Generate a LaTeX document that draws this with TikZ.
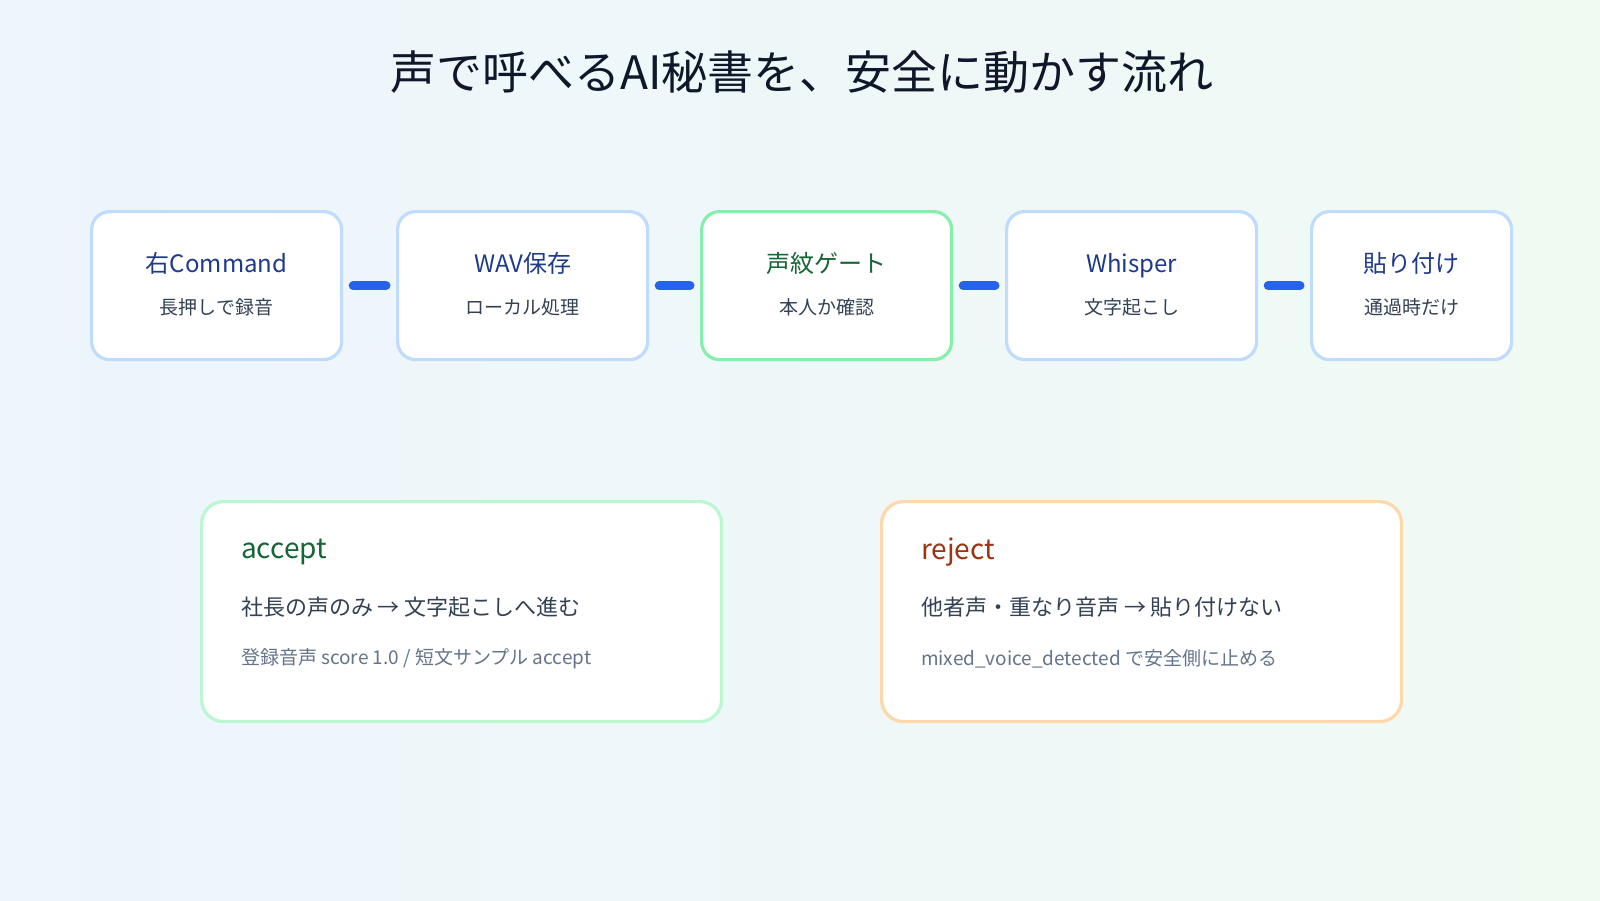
\documentclass[tikz,border=0pt]{standalone}
\usepackage{fontspec}
\setmainfont{Noto Sans CJK JP}
\usetikzlibrary{positioning}
\definecolor{bgA}{HTML}{EDF5FD}
\definecolor{bgB}{HTML}{F0FAF3}
\definecolor{ink}{HTML}{0F172A}
\definecolor{navy}{HTML}{1E3A8A}
\definecolor{leaf}{HTML}{166534}
\definecolor{rust}{HTML}{9A3412}
\definecolor{slate}{HTML}{334155}
\definecolor{mute}{HTML}{64748B}
\definecolor{blueline}{HTML}{BFDBFE}
\definecolor{greenline}{HTML}{86EFAC}
\definecolor{paleline}{HTML}{BBF7D0}
\definecolor{orangeline}{HTML}{FED7AA}
\definecolor{bar}{HTML}{2563EB}
\tikzset{
  stepbox/.style={draw=blueline,line width=1.6pt,fill=white,rounded corners=9pt,
    minimum height=74pt,anchor=north west,inner sep=0pt},
  gatebox/.style={stepbox,draw=greenline},
  resultbox/.style={draw=#1,line width=1.6pt,fill=white,rounded corners=11pt,
    minimum width=260pt,minimum height=110pt,anchor=north west,inner sep=0pt},
  link/.style={bar,line width=4.5pt,line cap=round,shorten >=5pt,shorten <=5pt},
  head/.style={font=\fontsize{12}{14}\selectfont,text=navy,anchor=base},
  sub/.style={font=\fontsize{9.5}{11}\selectfont,text=slate,anchor=base},
}
\begin{document}
\begin{tikzpicture}[x=0.5pt,y=-0.5pt]
  \shade[left color=bgA,right color=bgB] (0,0) rectangle (1600,900);
  \useasboundingbox (0,0) rectangle (1600,900);
  \node[font=\fontsize{23}{27}\selectfont,text=ink] (title) at (802,72) {声で呼べるAI秘書を、安全に動かす流れ};
  % pipeline
  \node[stepbox,minimum width=125pt] (rec) at (90,210) {};
  \node[stepbox,minimum width=125pt] (wav) at (396,210) {};
  \node[gatebox,minimum width=125pt] (gate) at (700,210) {};
  \node[stepbox,minimum width=125pt] (asr) at (1005,210) {};
  \node[stepbox,minimum width=100pt] (paste) at (1310,210) {};
  \foreach \b/\t/\s/\c in {rec/右Command/長押しで録音/navy,wav/WAV保存/ローカル処理/navy,
      gate/声紋ゲート/本人か確認/leaf,asr/Whisper/文字起こし/navy,paste/貼り付け/通過時だけ/navy} {
    \node[head,text=\c] (\b-t) at ([yshift=-31pt]\b.north) {\t};
    \node[sub] (\b-s) at ([yshift=-52pt]\b.north) {\s};
  }
  \foreach \a/\b in {rec/wav,wav/gate,gate/asr,asr/paste}
    \draw[link] (\a.east) -- (\b.west);
  % outcomes
  \node[resultbox=paleline] (acc) at (200,500) {};
  \node[resultbox=orangeline] (rej) at (880,500) {};
  \node[anchor=west,font=\fontsize{14}{16}\selectfont,text=leaf] (acc-t) at (234,552) {accept};
  \node[anchor=west,font=\fontsize{11}{13}\selectfont,text=slate] (acc-l) at (234,607) {社長の声のみ → 文字起こしへ進む};
  \node[anchor=west,font=\fontsize{9.5}{11}\selectfont,text=mute] (acc-s) at (234,659) {登録音声 score 1.0 / 短文サンプル accept};
  \node[anchor=west,font=\fontsize{14}{16}\selectfont,text=rust] (rej-t) at (914,552) {reject};
  \node[anchor=west,font=\fontsize{11}{13}\selectfont,text=slate] (rej-l) at (914,607) {他者声・重なり音声 → 貼り付けない};
  \node[anchor=west,font=\fontsize{9.5}{11}\selectfont,text=mute] (rej-s) at (914,659) {mixed\_voice\_detected で安全側に止める};
\end{tikzpicture}
\end{document}
